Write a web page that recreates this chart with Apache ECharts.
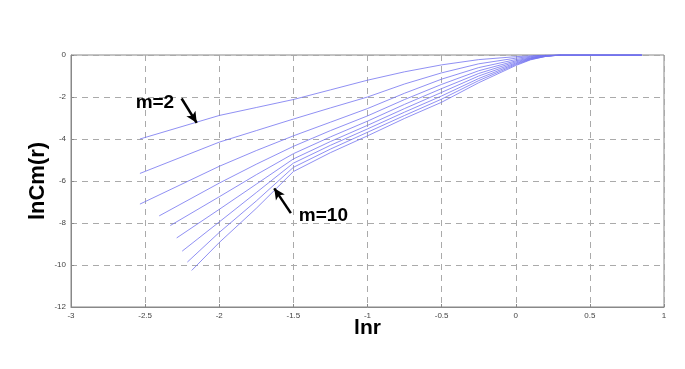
<!DOCTYPE html>
<html><head><meta charset="utf-8">
<script src="https://cdn.jsdelivr.net/npm/echarts@6/dist/echarts.min.js"></script>
<style>html,body{margin:0;padding:0;background:#fff}#c{width:685px;height:369px}</style>
</head><body><div id="c"></div>
<script>
// embedding dimensions
const mValues = [2, 3, 4, 5, 6, 7, 8, 9, 10];
// first point of each curve
const startX = [-2.535, -2.535, -2.535, -2.405, -2.33, -2.287, -2.25, -2.215, -2.186];
const startY = [-4.0, -5.64, -7.1, -7.66, -8.12, -8.71, -9.34, -9.86, -10.26];
// shared ln r positions after the start
const commonX = [-2, -1.75, -1.5, -1.25, -1, -0.75, -0.5, -0.25, 0, 0.1, 0.2, 0.3, 0.85];
const lnC_m2  = [-2.88, -2.5, -2.12, -1.66, -1.2, -0.8, -0.47, -0.22, -0.08, -0.04, -0.01, 0, 0];
const lnC_m3  = [-4.15, -3.6, -3.05, -2.52, -2.0, -1.38, -0.85, -0.42, -0.15, -0.07, -0.02, 0, 0];
const lnC_m4  = [-5.3, -4.55, -3.85, -3.2, -2.55, -1.82, -1.15, -0.6, -0.22, -0.1, -0.03, 0, 0];
const lnC_m5  = [-6.1, -5.2, -4.35, -3.6, -2.9, -2.12, -1.4, -0.75, -0.28, -0.13, -0.04, 0, 0];
const lnC_m6  = [-6.75, -5.7, -4.7, -3.9, -3.15, -2.35, -1.6, -0.88, -0.33, -0.15, -0.05, 0, 0];
const lnC_m7  = [-7.35, -6.15, -4.95, -4.12, -3.35, -2.55, -1.78, -1.0, -0.38, -0.17, -0.05, 0, 0];
const lnC_m8  = [-7.95, -6.55, -5.15, -4.3, -3.52, -2.72, -1.95, -1.12, -0.42, -0.19, -0.06, 0, 0];
const lnC_m9  = [-8.45, -6.95, -5.35, -4.48, -3.68, -2.88, -2.1, -1.22, -0.46, -0.21, -0.07, 0, 0];
const lnC_m10 = [-8.93, -7.3, -5.55, -4.65, -3.85, -3.02, -2.25, -1.32, -0.5, -0.23, -0.07, 0, 0];
const allY = [lnC_m2, lnC_m3, lnC_m4, lnC_m5, lnC_m6, lnC_m7, lnC_m8, lnC_m9, lnC_m10];
// axis ticks
const xMin = -3, xMax = 1, xStep = 0.5;
const yMin = -12, yMax = 0, yStep = 2;
// annotations (data coordinates)
const labelM2 = { text: 'm=2', x: -2.434, y: -2.29 };
const arrowM2 = [[-2.254, -2.07], [-2.152, -3.23]];
const labelM10 = { text: 'm=10', x: -1.463, y: -7.66 };
const arrowM10 = [[-1.517, -7.53], [-1.629, -6.35]];

const chart = echarts.init(document.getElementById('c'), null, { renderer: 'canvas' });
const series = mValues.map((m, i) => ({
  type: 'line', name: 'm=' + m, showSymbol: false, symbol: 'none',
  lineStyle: { color: '#7373f0', width: 0.8 },
  data: [[startX[i], startY[i]]].concat(commonX.map((x, k) => [x, allY[i][k]])),
  z: 3
}));
series.push({
  type: 'line', data: [], symbol: 'none',
  markLine: {
    silent: true, symbol: ['none', 'arrow'], symbolSize: [8, 11],
    label: { show: false },
    lineStyle: { color: '#000', width: 2.5, type: 'solid' },
    data: [
      [{ coord: arrowM2[0] }, { coord: arrowM2[1] }],
      [{ coord: arrowM10[0] }, { coord: arrowM10[1] }]
    ]
  }
});
const gridDash = { show: true, lineStyle: { color: '#aaa', type: [6, 5], width: 1 } };
chart.setOption({
  animation: false,
  backgroundColor: '#fff',
  grid: { left: 71, right: 21, top: 55, bottom: 62, show: true, borderColor: '#888', borderWidth: 1 },
  xAxis: {
    type: 'value', min: xMin, max: xMax, interval: xStep,
    name: 'lnr', nameLocation: 'middle', nameGap: 11, nameMoveOverlap: false,
    nameTextStyle: { fontFamily: 'Liberation Sans', fontWeight: 'bold', fontSize: 21, color: '#000', verticalAlign: 'top' },
    axisLine: { show: true, onZero: false, lineStyle: { color: '#888' } },
    axisTick: { show: true, inside: true, length: 3, lineStyle: { color: '#888' } },
    axisLabel: { fontFamily: 'Liberation Sans', fontSize: 8, color: '#444', margin: 5 },
    splitLine: gridDash
  },
  yAxis: {
    type: 'value', min: yMin, max: yMax, interval: yStep,
    name: 'lnCm(r)', nameLocation: 'middle', nameGap: 22, nameRotate: 90, nameMoveOverlap: false,
    nameTextStyle: { fontFamily: 'Liberation Sans', fontWeight: 'bold', fontSize: 22, color: '#000' },
    axisLine: { show: true, onZero: false, lineStyle: { color: '#888' } },
    axisTick: { show: true, inside: true, length: 3, lineStyle: { color: '#888' } },
    axisLabel: { fontFamily: 'Liberation Sans', fontSize: 8, color: '#444', margin: 5 },
    splitLine: gridDash
  },
  series: series
});
function place() {
  const p1 = chart.convertToPixel({ gridIndex: 0 }, [labelM2.x, labelM2.y]);
  const p2 = chart.convertToPixel({ gridIndex: 0 }, [labelM10.x, labelM10.y]);
  chart.setOption({
    graphic: [
      { type: 'text', x: p1[0], y: p1[1], style: { text: labelM2.text, fill: '#000', font: 'bold 19px "Liberation Sans"', textAlign: 'center', textVerticalAlign: 'middle' } },
      { type: 'text', x: p2[0], y: p2[1], style: { text: labelM10.text, fill: '#000', font: 'bold 19px "Liberation Sans"', textAlign: 'left', textVerticalAlign: 'middle' } }
    ]
  });
}
place();
</script></body></html>
